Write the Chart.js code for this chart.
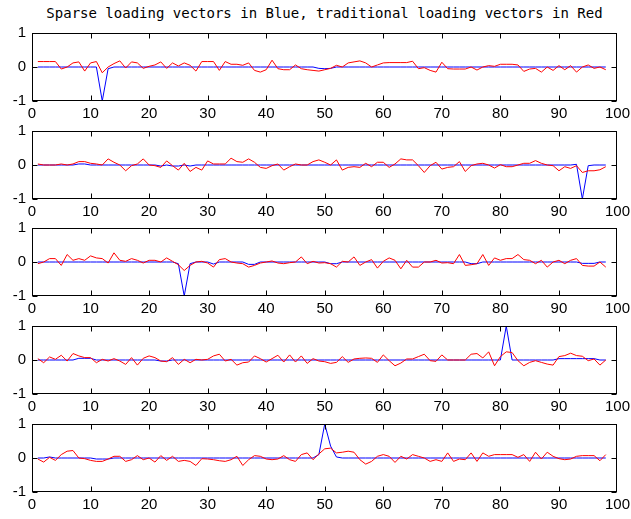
<!DOCTYPE html>
<html>
<head>
<meta charset="utf-8">
<script src="https://cdn.jsdelivr.net/npm/chart.js@4.4.0/dist/chart.umd.min.js"></script>
<style>
  body { margin: 0; background: #fff; }
  #wrap { position: relative; width: 631px; height: 519px; overflow: hidden; }
  #title { position: absolute; left: 0; top: 5px; width: 649px; text-align: center;
           font: 14px "DejaVu Sans Mono", monospace; color: #000; }
  canvas { position: absolute; left: 0; }
</style>
</head>
<body>
<div id="wrap">
  <div id="title">Sparse loading vectors in Blue, traditional loading vectors in Red</div>
  <canvas id="c0"></canvas>
  <canvas id="c1"></canvas>
  <canvas id="c2"></canvas>
  <canvas id="c3"></canvas>
  <canvas id="c4"></canvas>
</div>
<script>
// index of each loading (1..98)
var xValues = [1,2,3,4,5,6,7,8,9,10,11,12,13,14,15,16,17,18,19,20,
  21,22,23,24,25,26,27,28,29,30,31,32,33,34,35,36,37,38,39,40,
  41,42,43,44,45,46,47,48,49,50,51,52,53,54,55,56,57,58,59,60,
  61,62,63,64,65,66,67,68,69,70,71,72,73,74,75,76,77,78,79,80,
  81,82,83,84,85,86,87,88,89,90,91,92,93,94,95,96,97,98];

var xTicks = [0,10,20,30,40,50,60,70,80,90,100];
var yTicks = [-1,0,1];

// traditional loading vectors (red)
var red1 = [0.16,0.16,0.16,0.16,-0.06,0,0.12,0.15,-0.12,0.12,
  0.16,-0.17,0,0.1,0.18,-0.03,0.15,0.12,-0.04,0.02,
  0.06,0.15,-0.04,0.12,0.03,0.12,0.05,-0.12,0.16,0.16,
  0.16,-0.1,0.16,0.08,0.08,0.05,0.12,-0.1,-0.15,-0.08,
  0.2,-0.05,-0.08,-0.08,0.06,-0.05,-0.08,-0.1,-0.12,-0.08,
  -0.04,0.05,0,0.12,0.15,0.18,0.12,0,0.06,0.12,
  0.13,0.13,0.13,0.13,0.17,-0.05,-0.02,-0.1,-0.15,0.14,
  -0.05,-0.06,-0.06,-0.06,0,-0.09,0,0.04,0.02,0.08,
  0.08,0.08,0.06,-0.13,-0.06,-0.04,-0.15,0,-0.1,0.04,
  -0.08,0.04,-0.15,0,0.06,-0.04,0,-0.08];
var red2 = [0.03,0,0,0,0.03,0,0.03,0.1,0.1,0.05,
  0.03,0,0.18,0.08,0,-0.17,-0.02,0.03,0.18,0,
  -0.02,-0.07,0.12,-0.02,-0.15,0.05,-0.19,-0.07,-0.15,0.12,
  0.03,0.03,0.03,0.2,0.1,0.08,0.18,0.08,-0.07,-0.1,
  -0.02,0.03,-0.15,-0.05,0.03,0,0,0.1,0.15,0.08,
  0,0.15,-0.15,-0.07,-0.05,-0.07,0.05,-0.05,0.08,0.08,
  -0.07,0.03,0.18,0.15,0.15,-0.02,-0.22,-0.02,0.08,-0.12,
  -0.07,-0.05,0.1,-0.19,-0.02,0.03,0.05,0,-0.09,0.01,
  -0.05,-0.05,0,0.05,0.05,0.13,0.05,0,-0.02,-0.17,
  -0.05,-0.1,-0.02,-0.22,-0.17,-0.17,-0.14,-0.05];
var red3 = [-0.05,0,0.1,0.1,-0.1,0.22,0.05,0.1,0.05,0.18,
  0.12,0.1,-0.03,0.27,0.05,0.02,0.1,0.05,-0.03,0.05,
  0.05,0,0.12,0.02,-0.08,-0.25,-0.1,0,0.02,-0.03,
  -0.15,0.07,0.1,0,-0.03,-0.05,-0.15,-0.1,-0.03,0,
  0.03,-0.03,-0.05,-0.02,0,0.15,-0.05,0.02,-0.03,-0.02,
  -0.05,-0.15,0.02,0,0.15,-0.1,0,0.07,-0.18,0.02,
  0.12,0.05,-0.2,0.05,-0.15,-0.15,0,0,0.05,-0.03,
  -0.02,-0.05,0.22,-0.1,-0.08,-0.05,0.22,-0.1,0.12,0.05,
  0.1,0.1,0.22,0.07,0.05,-0.05,0.05,-0.15,0,0.05,
  -0.05,0.05,0.1,-0.1,-0.12,-0.12,0,-0.15];
var red4 = [0.04,-0.08,0.09,0.02,0.14,-0.03,0.19,0.12,0.07,0.07,
  -0.08,0.02,-0.03,0.04,-0.03,-0.13,0.07,-0.15,0.05,0.12,
  0.07,-0.03,-0.05,0.07,-0.13,0.02,-0.08,0.02,0,0.02,
  0.12,0.17,-0.03,0.02,-0.15,-0.08,-0.06,0.12,0.04,-0.06,
  0.04,0.14,-0.06,0.15,-0.06,0.12,-0.1,0.04,-0.03,-0.05,
  -0.1,-0.07,0.1,-0.07,0.03,0.05,0.06,0.05,-0.07,0.15,
  -0.02,-0.17,-0.09,0.03,0.03,0.1,0.17,-0.02,-0.04,0.15,
  0,0,0,0,0.17,0.19,0.06,0.24,-0.17,0.1,
  0.24,0.22,-0.02,-0.17,-0.07,-0.02,-0.07,-0.12,-0.15,0.1,
  0.13,0.2,0.13,0.11,-0.02,0.03,-0.15,0];
var red5 = [-0.03,-0.12,0.02,-0.07,0.1,0.2,0.22,0,-0.02,-0.07,
  -0.1,-0.1,-0.03,0.05,0.05,-0.1,-0.05,0.07,-0.05,0,
  -0.12,0.07,-0.07,0.05,-0.1,-0.07,-0.1,-0.22,-0.02,-0.03,
  -0.05,-0.08,-0.1,-0.05,0.05,-0.22,-0.05,0.07,0.05,-0.03,
  -0.05,-0.03,0.07,-0.05,-0.1,0.1,0.15,-0.05,0.12,0.27,
  0.29,0.15,0.17,0.2,0.17,-0.05,-0.18,-0.1,0.05,0.1,
  0.05,-0.13,0.05,-0.03,0.1,0.05,0,-0.1,-0.05,-0.1,
  0.15,-0.1,-0.03,-0.05,0.15,-0.1,0.15,0.05,0.1,0.1,
  0.1,0.1,0.02,0.1,-0.1,0.17,-0.03,0.17,0.05,-0.02,
  -0.05,-0.03,0.05,0.07,0.07,0.07,-0.08,0.1];

// sparse loading vectors (blue)
var blue1 = [0,0,0,0,0,0,0,0,0,0,
  0,-1,-0.05,0,0,0,0,0,0,0,
  0,0,0,0,0,0,0,0,0,0,
  0,0,0,0,0,0,0,0,0,0,
  0,0,0,0,0,0,0,0,-0.04,-0.05,
  -0.04,0,0,0,0,0,0,0,0,0,
  0,0,0,0,0,0,0,0,0,0,
  0,0,0,0,0,0,0,0,0,0,
  0,0,0,0,0,0,0,0,0,0,
  0,0,0,0,0,0,0,0];
var blue2 = [0,0,0,0,0,0,0,0.03,0.03,0,
  0,0,0,0,0,0,0,0,0,0,
  0,-0.03,0,-0.03,-0.03,0,-0.03,0,0,0,
  0,0,0,0,0,0,0,0,0,0,
  0,0,0,0,0,0,0,0,0,0,
  0,0,0,0,0,0,0,0,0,0,
  0,0,0,0,0,0,0,0,0,0,
  0,0,0,0,0,0,0,0,0,0,
  0,0,0,0,0,0,0,0,0,0,
  0,0,0.02,-1,-0.02,0,0,0];
var blue3 = [0,0,0,0,0,0,0,0,0,0,
  0,0,0,0,0,0,0,0,0,0,
  0,0,0,0,-0.05,-1,-0.05,0,0,0,
  -0.06,0,0,0,0,0,-0.07,-0.07,0,0,
  0,0,0,0,0,0,0,0,0,0,
  -0.05,-0.05,0,0,0,0,0,0,0,0,
  0,0,0,0,0,0,0,0,0,0,
  0,0,0,0,-0.05,-0.05,0,0,0,0,
  0,0,0,0,0,0,0,0,0,0,
  0,0,0,-0.04,-0.04,-0.04,0,0];
var blue4 = [0,0,0,0,0,0,0,0.05,0.05,0.05,
  0,0,0,0,0,0,0,0,0,0,
  0,-0.03,-0.03,0,0,0,0,0,0,0,
  0,0,0,0,0,0,0,0,0,0,
  0,0,0,0,0,0,0,0,0,0,
  0,0,0,0,0,0,0,0,0,0,
  0,0,0,0,0,0,0,0,0,0,
  0,0,0,0,0,0,0,0,0,0,
  1,0,0,0,0,0,0,0,0,0.04,
  0.04,0.04,0.04,0.04,0.04,0.04,0,0];
var blue5 = [0,0,0.03,0,0,0,0,0,0,0,
  -0.03,-0.03,-0.03,0,0,0,0,0,0,0,
  0,0,0,0,0,0,0,0,0,0,
  0,0,0,0,0,0,0,0,0,0,
  0,0,0,0,0,0,0,0,0.1,1,
  0.35,0.03,0,0,0,0,0,0,0,0,
  0,0,0,0,0,0,0,0,0,0,
  0,0,0,0,0,0,0,0,0,0,
  0,0,0,0,0,0,0,0,0,0,
  0,0,0,0,0,0,0,0];

var reds = [red1, red2, red3, red4, red5];
var blues = [blue1, blue2, blue3, blue4, blue5];

// where each plot box sits on the page
var plotLeft = 32, plotW = 585, plotH = 68;
var plotTops = [33, 131, 228, 326, 424];

Chart.defaults.font.family = '"Liberation Sans", Arial, sans-serif';
Chart.defaults.font.size = 15;
Chart.defaults.color = '#000';

function pts(ys) {
  return ys.map(function(v, i) { return { x: xValues[i], y: v }; });
}

// MATLAB style box with inward ticks on all four sides
var boxPlugin = {
  id: 'boxframe',
  afterDraw: function(chart) {
    try {
      var ctx = chart.ctx, a = chart.chartArea;
      var xs = chart.scales.x, ys = chart.scales.y;
      var L = Math.round(a.left) + 0.5, R = Math.round(a.right) - 0.5;
      var T = Math.round(a.top) + 0.5, B = Math.round(a.bottom) - 0.5;
      ctx.save();
      ctx.strokeStyle = '#000';
      ctx.lineWidth = 1;
      ctx.beginPath();
      xTicks.forEach(function(v) {
        if (v === 0 || v === 100) return;
        var p = Math.round(xs.getPixelForValue(v)) + 0.5;
        ctx.moveTo(p, T); ctx.lineTo(p, T + 5);
        ctx.moveTo(p, B); ctx.lineTo(p, B - 5);
      });
      yTicks.forEach(function(v) {
        var p = Math.round(ys.getPixelForValue(v)) + 0.5;
        ctx.moveTo(L, p); ctx.lineTo(L + 5, p);
        ctx.moveTo(R, p); ctx.lineTo(R - 5, p);
      });
      ctx.stroke();
      ctx.strokeRect(L, T, R - L, B - T);
      ctx.restore();
      // read a pixel back so the canvas is flushed before the page is shown
      var px = ctx.getImageData(Math.round(a.left), Math.round(a.top) + 20, 1, 1).data;
      chart.canvas.setAttribute('data-frame', px[3]);
    } catch (e) {
      chart.canvas.setAttribute('data-frame', 'failed');
    }
  }
};

function makeConfig(k) {
  return {
    type: 'line',
    data: {
      datasets: [{
        label: 'traditional',
        data: pts(reds[k]),
        borderColor: '#ff0000',
        borderWidth: 1,
        pointRadius: 0,
        tension: 0
      }, {
        label: 'sparse',
        data: pts(blues[k]),
        borderColor: '#0000ff',
        borderWidth: 1,
        pointRadius: 0,
        tension: 0
      }]
    },
    options: {
      responsive: false,
      maintainAspectRatio: false,
      animation: false,
      layout: { padding: { top: 10, right: 16, left: 2, bottom: 2 } },
      plugins: { legend: { display: false }, tooltip: { enabled: false } },
      scales: {
        x: {
          type: 'linear', min: 0, max: 100,
          afterBuildTicks: function(s) { s.ticks = xTicks.map(function(v) { return { value: v }; }); },
          grid: { display: false, drawTicks: false },
          border: { display: false },
          ticks: { padding: 4, maxRotation: 0, autoSkip: false }
        },
        y: {
          min: -1, max: 1,
          afterBuildTicks: function(s) { s.ticks = yTicks.map(function(v) { return { value: v }; }); },
          afterFit: function(s) { s.width = 30; },
          grid: { display: false, drawTicks: false },
          border: { display: false },
          ticks: { padding: 6 }
        }
      }
    },
    plugins: [boxPlugin]
  };
}

function build(k, w, h) {
  var cv = document.getElementById('c' + k);
  cv.width = w;
  cv.height = h;
  cv.style.width = w + 'px';
  cv.style.height = h + 'px';
  var ctx = cv.getContext('2d', { willReadFrequently: true });
  return new Chart(ctx, makeConfig(k));
}

for (var k = 0; k < 5; k++) {
  // first pass to measure the axes, second pass sized so the box is plotW x plotH
  var w = 640, h = 110;
  var ch = build(k, w, h);
  var area = ch.chartArea;
  w = Math.round(w + plotW - (area.right - area.left));
  h = Math.round(h + plotH - (area.bottom - area.top));
  ch.destroy();
  ch = build(k, w, h);
  area = ch.chartArea;
  var cv = document.getElementById('c' + k);
  cv.style.left = Math.round(plotLeft - area.left) + 'px';
  cv.style.top = Math.round(plotTops[k] - area.top) + 'px';
}
</script>
</body>
</html>
